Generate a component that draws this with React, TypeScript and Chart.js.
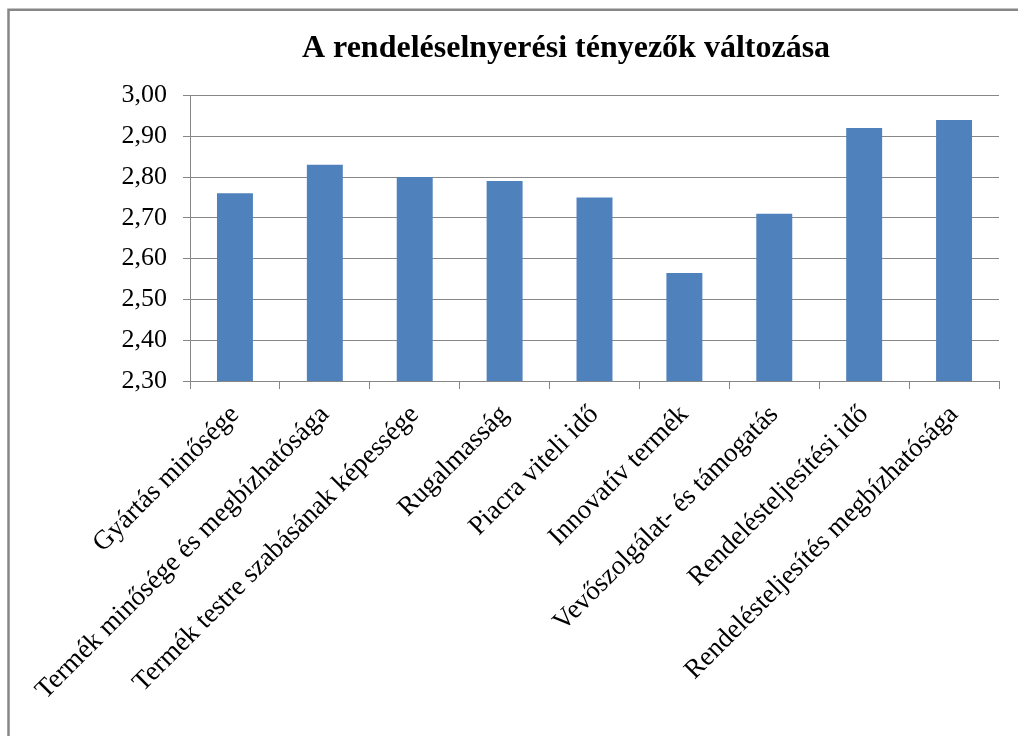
import React, { useEffect, useRef } from "react";
import { Chart, registerables } from "chart.js";

Chart.register(...registerables);

const titleText = "A rendeléselnyerési tényezők változása";
const categories = [
  "Gyártás minősége",
  "Termék minősége és megbízhatósága",
  "Termék testre szabásának képessége",
  "Rugalmasság",
  "Piacra viteli idő",
  "Innovatív termék",
  "Vevőszolgálat- és támogatás",
  "Rendelésteljesítési idő",
  "Rendelésteljesítés megbízhatósága",
];
const values = [2.76, 2.83, 2.8, 2.79, 2.75, 2.565, 2.71, 2.92, 2.94];
const yMin = 2.3;
const yMax = 3.0;
const yStep = 0.1;

const FONT = "'Liberation Serif', 'Times New Roman', serif";
const GRID = "#878787";

export default function App() {
  const ref = useRef<HTMLCanvasElement | null>(null);

  useEffect(() => {
    if (!ref.current) return;
    const framePlugin = {
      id: "frame",
      beforeDraw(chart: any) {
        const ctx = chart.ctx;
        ctx.save();
        ctx.fillStyle = "#ffffff";
        ctx.fillRect(0, 0, chart.width, chart.height);
        ctx.strokeStyle = "#878787";
        ctx.lineWidth = 2.5;
        ctx.beginPath();
        ctx.moveTo(8.5, chart.height + 5);
        ctx.lineTo(8.5, 9.8);
        ctx.lineTo(chart.width + 5, 9.8);
        ctx.stroke();
        ctx.restore();
      },
      afterLayout(chart: any) {
        const t = chart.titleBlock;
        if (t) {
          const center = (t.left + t.right) / 2;
          const d = 566 - center;
          t.left += d;
          t.right += d;
        }
      },
    };
    const chart = new Chart(ref.current, {
      type: "bar",
      data: {
        labels: categories,
        datasets: [
          {
            data: values,
            backgroundColor: "#4F81BD",
            borderWidth: 0,
            barPercentage: 0.4,
            categoryPercentage: 1.0,
          },
        ],
      },
      plugins: [framePlugin],
      options: {
        responsive: false,
        animation: false,
        layout: { padding: { left: 0, right: 19, top: 10, bottom: 0 } },
        plugins: {
          legend: { display: false },
          tooltip: { enabled: false },
          title: {
            display: true,
            text: titleText,
            color: "#000000",
            font: { family: FONT, size: 32, weight: "bold" },
            padding: { top: 20, bottom: 27 },
          },
        },
        scales: {
          x: {
            grid: {
              display: true,
              drawOnChartArea: false,
              drawTicks: true,
              tickLength: 8,
              color: GRID,
              offset: true,
            },
            border: { display: true, color: GRID },
            ticks: {
              color: "#000000",
              font: { family: FONT, size: 27 },
              maxRotation: 45,
              minRotation: 45,
              autoSkip: false,
              padding: 10,
            },
            afterFit(scale: any) {
              scale.height = 355;
              scale.paddingLeft = 0;
              scale.paddingRight = 0;
            },
          },
          y: {
            min: yMin,
            max: yMax,
            grid: {
              color: GRID,
              drawTicks: true,
              tickLength: 7,
            },
            border: { display: true, color: GRID },
            ticks: {
              stepSize: yStep,
              color: "#000000",
              font: { family: FONT, size: 26 },
              padding: 16,
              callback: (v: any) => Number(v).toFixed(2).replace(".", ","),
            },
            afterFit(scale: any) {
              scale.width = 190;
            },
          },
        },
      },
    });
    return () => chart.destroy();
  }, []);

  return (
    <div style={{ position: "fixed", left: 0, top: 0, width: 1018, height: 736, background: "#fff" }}>
      <canvas ref={ref} width={1018} height={736} style={{ display: "block" }} />
    </div>
  );
}
